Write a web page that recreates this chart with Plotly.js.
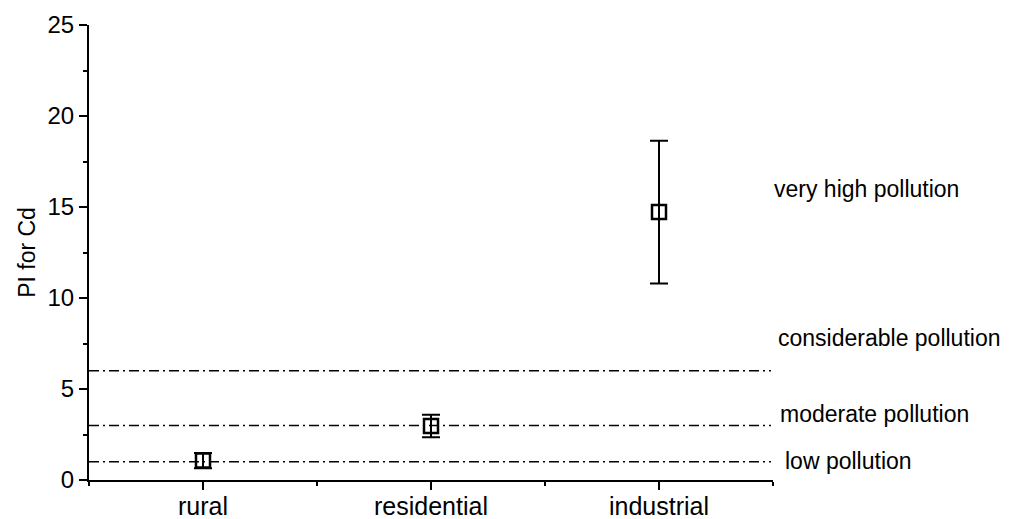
<!DOCTYPE html>
<html>
<head>
<meta charset="utf-8">
<script src="https://cdn.plot.ly/plotly-3.0.1.min.js"></script>
<style>html,body{margin:0;padding:0;background:#fff;}#chart{width:1017px;height:519px;}</style>
</head>
<body>
<div id="chart"></div>
<script>
// Data
const categories = ["rural", "residential", "industrial"];
const piMean = [1.07, 2.97, 14.72];
const piError = [0.42, 0.62, 3.92];
const thresholdValues = [1, 3, 6];
const classLabels = ["low pollution", "moderate pollution", "considerable pollution", "very high pollution"];
const classLabelY = [1.05, 3.6, 7.8, 16.0];
const classLabelX = [1.0146, 1.0073, 1.0044, 0.9985];

const xIdx = categories.map((c, i) => i);

const font = "Liberation Sans, Arial, sans-serif";

const trace = {
  x: xIdx,
  y: piMean,
  type: "scatter",
  mode: "markers",
  marker: {symbol: "square-open", size: 14, color: "#000", line: {width: 2.5, color: "#000"}},
  error_y: {type: "data", array: piError, visible: true, color: "#000", thickness: 2, width: 9},
  showlegend: false,
  hoverinfo: "skip"
};

const shapes = thresholdValues.map(v => ({
  type: "line", xref: "paper", yref: "y", x0: 0, x1: 0.997, y0: v, y1: v,
  line: {color: "#000", width: 1.5, dash: "10px,4px,2px,4px"}
}));

const annotations = classLabels.map((t, i) => ({
  text: t, xref: "paper", yref: "y", x: classLabelX[i], y: classLabelY[i],
  xanchor: "left", yanchor: "middle", showarrow: false,
  font: {family: font, size: 23, color: "#000"}
}));

const layout = {
  width: 1017, height: 519,
  margin: {l: 89, r: 244, t: 25, b: 39},
  paper_bgcolor: "#fff", plot_bgcolor: "#fff",
  font: {family: font, size: 24, color: "#000"},
  xaxis: {
    range: [-0.5, 2.5],
    tickmode: "array", tickvals: xIdx, ticktext: categories,
    showline: true, linecolor: "#000", linewidth: 2,
    ticks: "outside", ticklen: 8, tickwidth: 2, tickcolor: "#000",
    ticklabelstandoff: -5,
    showgrid: false, zeroline: false,
    tickfont: {family: font, size: 25, color: "#000"},
    minor: {tickmode: "linear", tick0: -0.5, dtick: 1, ticks: "outside", ticklen: 4, tickwidth: 2, tickcolor: "#000", showgrid: false}
  },
  yaxis: {
    range: [0, 25],
    tickmode: "linear", tick0: 0, dtick: 5,
    showline: true, linecolor: "#000", linewidth: 2,
    ticks: "outside", ticklen: 8, tickwidth: 2, tickcolor: "#000",
    showgrid: false, zeroline: false,
    tickfont: {family: font, size: 24, color: "#000"},
    minor: {tickmode: "linear", tick0: 0, dtick: 2.5, ticks: "outside", ticklen: 4, tickwidth: 2, tickcolor: "#000", showgrid: false},
    title: {text: "PI for Cd", font: {family: font, size: 23, color: "#000"}, standoff: 5}
  },
  shapes: shapes,
  annotations: annotations
};

Plotly.newPlot("chart", [trace], layout, {staticPlot: true, displayModeBar: false});
</script>
</body>
</html>
